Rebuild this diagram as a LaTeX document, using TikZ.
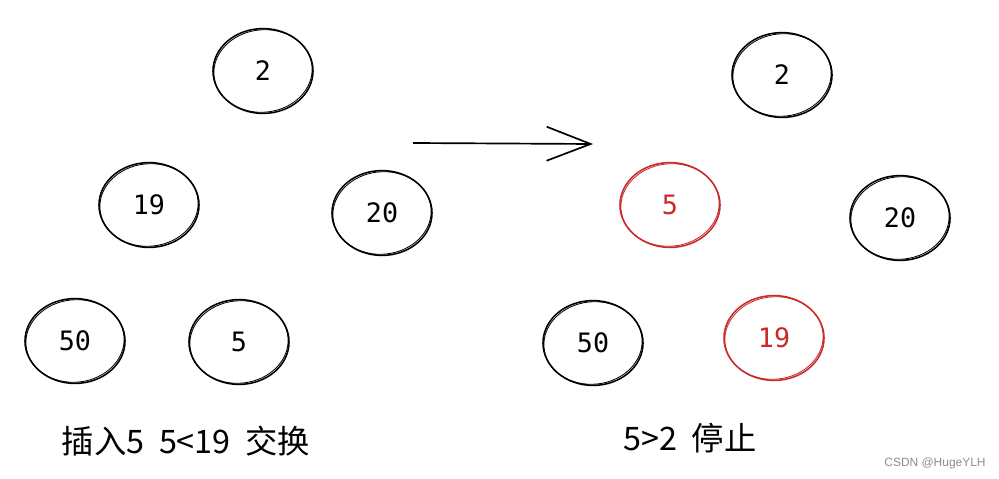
\documentclass[tikz,border=0pt]{standalone}
\usepackage{fontspec}
\setmonofont{DejaVu Sans Mono}
\newfontfamily\cjk{Noto Sans CJK SC}
\newfontfamily\wmfont{Liberation Sans}
\usetikzlibrary{shapes.geometric,arrows.meta}
\definecolor{swapred}{HTML}{C92A2A}
\tikzset{
  bubble/.style={ellipse,draw,line width=1.1pt,minimum width=2.5cm,minimum height=2.12cm,inner sep=0pt,
    font=\ttfamily\fontsize{19}{22}\selectfont},
  hotbubble/.style={bubble,draw=swapred,text=swapred},
  caption/.style={font=\cjk\fontsize{23}{27}\selectfont}
}
\begin{document}
\begin{tikzpicture}[x=0.025cm,y=-0.025cm]
  \useasboundingbox (0,0) rectangle (999,479);

  % before: 5 inserted below 19
  \node[bubble] (Left2) at (263,71) {2};
  \node[bubble] (Left19) at (149,205) {19};
  \node[bubble] (Left20) at (382,213) {20};
  \node[bubble] (Left50) at (75,341) {50};
  \node[bubble] (Left5) at (239,342) {5};

  % after: 5 and 19 swapped
  \node[bubble] (Right2) at (782,75) {2};
  \node[hotbubble] (Right5) at (670,205) {5};
  \node[bubble] (Right20) at (900,218) {20};
  \node[bubble] (Right50) at (593,343) {50};
  \node[hotbubble] (Right19) at (774,338) {19};

  % second pencil stroke round each circle
  \foreach \n/\c in {Left2/black,Left19/black,Left20/black,Left50/black,Left5/black,
                     Right2/black,Right5/swapred,Right20/black,Right50/black,Right19/swapred}
    \draw[\c,line width=0.6pt,rotate around={6:(\n.center)}] (\n.center) ellipse[x radius=1.23cm,y radius=1.03cm];

  \coordinate (ArrowStart) at (413,143);
  \coordinate (ArrowEnd) at (593,144);
  \draw[line width=1.2pt,-{Straight Barb[length=1.1cm,width=0.85cm,line width=1.2pt]}] (ArrowStart)--(ArrowEnd);

  \node[caption] (LeftNote) at (186,441) {插入5\ \ 5<19\ \ 交换};
  \node[caption] (RightNote) at (690,438) {5>2\ \ 停止};
  \node[font=\wmfont\fontsize{8.5}{10}\selectfont,text=black!45] (Mark) at (935,463) {CSDN @HugeYLH};
\end{tikzpicture}
\end{document}
